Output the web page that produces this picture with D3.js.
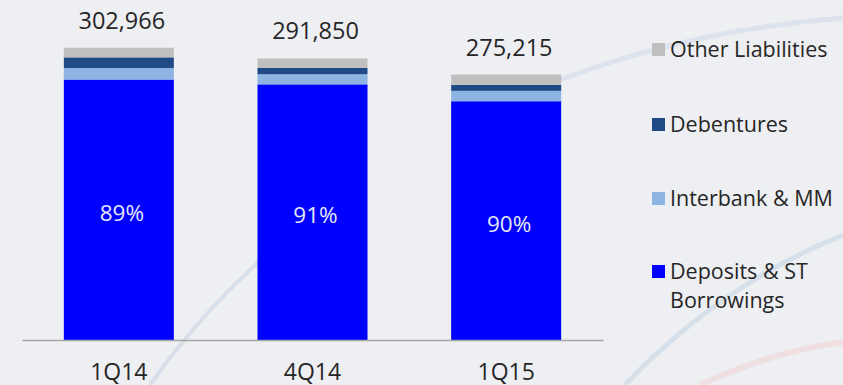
<!DOCTYPE html>
<html>
<head>
<meta charset="utf-8">
<script src="https://cdn.jsdelivr.net/npm/d3@7"></script>
<style>
  html, body { margin: 0; padding: 0; background: #eeeff2; }
  svg { display: block; font-family: "Open Sans", Lato, sans-serif; }
</style>
</head>
<body>
<svg id="chart" width="843" height="385"></svg>
<script>
// Funding structure by quarter (R$ million)
const categories = ["1Q14", "4Q14", "1Q15"];
const deposits   = [270000, 265000, 247500];
const interbank  = [12000, 10500, 10800];
const debentures = [11000, 6500, 6200];
const other      = [9966, 9850, 10715];

const seriesNames  = ["Deposits & ST Borrowings", "Interbank & MM", "Debentures", "Other Liabilities"];
const seriesColors = ["#0000ff", "#8db4e2", "#1f4a85", "#bfbfbf"];

const rows = categories.map((c, i) => ({
  cat: c,
  "Deposits & ST Borrowings": deposits[i],
  "Interbank & MM": interbank[i],
  "Debentures": debentures[i],
  "Other Liabilities": other[i]
}));

const svg = d3.select("#chart");
const W = 843, H = 385;
const FONT = "\"Open Sans\", Lato, sans-serif";

// soft background swooshes
const bg = svg.append("g");
bg.append("rect").attr("width", W).attr("height", H).attr("fill", "#eeeff2");
const sw = [
  {d: "M150,385 Q210,300 290,235", c: "#d6dfea", w: 4},
  {d: "M560,80 Q690,30 843,18", c: "#dde3ec", w: 5},
  {d: "M625,385 Q720,285 843,235", c: "#d6e0ea", w: 5},
  {d: "M700,385 Q770,352 843,342", c: "#efdfe1", w: 6}
];
sw.forEach(s => bg.append("path").attr("d", s.d).attr("fill", "none")
  .attr("stroke", s.c).attr("stroke-width", s.w));

const x = d3.scaleBand().domain(categories).range([22, 603])
  .paddingInner(0.432).paddingOuter(0.216);
const y = d3.scaleLinear().domain([0, 300000]).range([340, 50.6]);

const stack = d3.stack().keys(seriesNames)(rows);
const color = d3.scaleOrdinal().domain(seriesNames).range(seriesColors);

svg.append("g").selectAll("g").data(stack).join("g")
  .attr("fill", d => color(d.key))
  .selectAll("rect").data(d => d).join("rect")
  .attr("x", d => x(d.data.cat))
  .attr("width", x.bandwidth())
  .attr("y", d => y(d[1]))
  .attr("height", d => y(d[0]) - y(d[1]));

// baseline axis
const axis = svg.append("g").attr("transform", "translate(0,340)")
  .call(d3.axisBottom(x).tickSize(0).tickPadding(0));
axis.select(".domain").attr("stroke", "#a6a6a6").attr("stroke-width", 1.5);
axis.selectAll("text").attr("dy", null).attr("y", 40)
  .attr("font-size", 23).attr("fill", "#262626")
  .attr("font-family", FONT);

// totals above bars
const fmt = d3.format(",");
const totals = rows.map((r, i) => deposits[i] + interbank[i] + debentures[i] + other[i]);
svg.append("g").selectAll("text").data(rows).join("text")
  .attr("x", d => x(d.cat) + x.bandwidth() / 2 + 3)
  .attr("y", (d, i) => y(totals[i]) - 19)
  .attr("text-anchor", "middle")
  .attr("font-size", 23.5).attr("fill", "#262626")
  .text((d, i) => fmt(totals[i]));

// deposit share inside blue segment
svg.append("g").selectAll("text").data(rows).join("text")
  .attr("x", d => x(d.cat) + x.bandwidth() / 2 + 3)
  .attr("y", (d, i) => (y(0) + y(deposits[i])) / 2 + 11)
  .attr("text-anchor", "middle")
  .attr("font-size", 22.5).attr("fill", "#e6e8f8")
  .text((d, i) => d3.format(".0%")(deposits[i] / totals[i]));

// legend
const legend = [
  {name: "Other Liabilities", lines: ["Other Liabilities"], y: 57},
  {name: "Debentures", lines: ["Debentures"], y: 132},
  {name: "Interbank & MM", lines: ["Interbank & MM"], y: 206},
  {name: "Deposits & ST Borrowings", lines: ["Deposits & ST", "Borrowings"], y: 279}
];
const lg = svg.append("g").selectAll("g").data(legend).join("g");
lg.append("rect")
  .attr("x", 652).attr("y", d => d.y - 14)
  .attr("width", 13).attr("height", 13)
  .attr("fill", d => color(d.name));
lg.append("text")
  .attr("x", 670).attr("y", d => d.y)
  .attr("font-size", 21.5).attr("fill", "#262626")
  .selectAll("tspan").data(d => d.lines).join("tspan")
  .attr("x", 670).attr("dy", (d, i) => i === 0 ? 0 : 29)
  .text(d => d);
</script>
</body>
</html>
